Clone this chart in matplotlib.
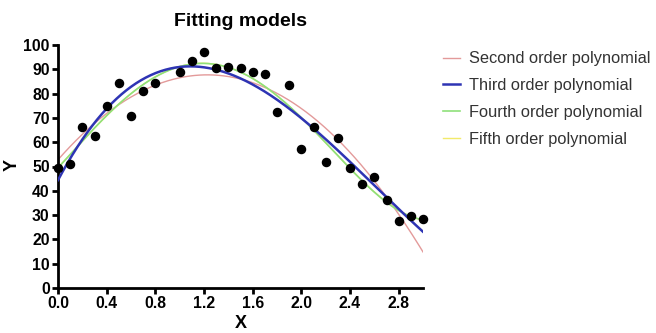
import matplotlib.pyplot as plt
import numpy as np

plt.rcParams['font.family'] = ['Liberation Sans', 'DejaVu Sans']

# Données
x_data = [0.0, 0.1, 0.2, 0.3, 0.4, 0.5, 0.6, 0.7, 0.8, 1.0,
          1.1, 1.2, 1.3, 1.4, 1.5, 1.6, 1.7, 1.8, 1.9, 2.0,
          2.1, 2.2, 2.3, 2.4, 2.5, 2.6, 2.7, 2.8, 2.9, 3.0]
y_data = [49.3, 50.9, 66.4, 62.6, 74.9, 84.2, 70.8, 80.9, 84.5, 88.9,
          93.3, 97.1, 90.4, 90.8, 90.7, 88.9, 88.2, 72.4, 83.7, 57.1,
          66.1, 52.0, 61.7, 49.2, 42.8, 45.6, 36.3, 27.7, 29.6, 28.3]

orders = [2, 3, 4, 5]
labels = ['Second order polynomial', 'Third order polynomial',
          'Fourth order polynomial', 'Fifth order polynomial']
colors = ['#e39a9a', '#2e34b4', '#8fe07a', '#f2ea6a']
widths = [1.0, 1.8, 1.2, 1.0]

fig = plt.figure(figsize=(6.56, 3.33), dpi=100)
ax = fig.add_axes([58/656, 1 - 288/333, 365/656, 243/333])

x_fit = np.linspace(0, 3, 300)
# ordre d'affichage : rouge, vert, jaune, bleu dessus
for o, lab, c, w, z in zip(orders, labels, colors, widths, [2, 4, 3, 2.5]):
    coef = np.polyfit(x_data, y_data, o)
    ax.plot(x_fit, np.polyval(coef, x_fit), color=c, lw=w, label=lab, zorder=z)

ax.scatter(x_data, y_data, s=34, color='black', zorder=5, clip_on=False)

ax.set_xlim(0, 3.0)
ax.set_ylim(0, 100)
ax.set_xticks(np.arange(0, 3.0, 0.4))
ax.set_xticklabels(['%.1f' % v for v in np.arange(0, 3.0, 0.4)])
ax.set_yticks(np.arange(0, 101, 10))

for s in ['top', 'right']:
    ax.spines[s].set_visible(False)
for s in ['left', 'bottom']:
    ax.spines[s].set_linewidth(2)
ax.tick_params(width=2, length=4, labelsize=11.3, pad=2)
for t in ax.get_xticklabels() + ax.get_yticklabels():
    t.set_fontweight('bold')

ax.set_xlabel('X', fontsize=13, fontweight='bold', labelpad=3)
# placer le Y à la main, sinon il sort de la figure
fig.text(12 / 656, 1 - 165 / 333, 'Y', fontsize=13, fontweight='bold',
         rotation=90, ha='center', va='center')
ax.set_title('Fitting models', fontsize=14, fontweight='bold', pad=14)

leg = ax.legend(loc='upper left', bbox_to_anchor=(1.015, 1.035), frameon=False,
                fontsize=11.8, handlelength=1.0, labelspacing=0.72,
                handletextpad=0.6, labelcolor='#333333')

fig.savefig('out.png', dpi=100)
